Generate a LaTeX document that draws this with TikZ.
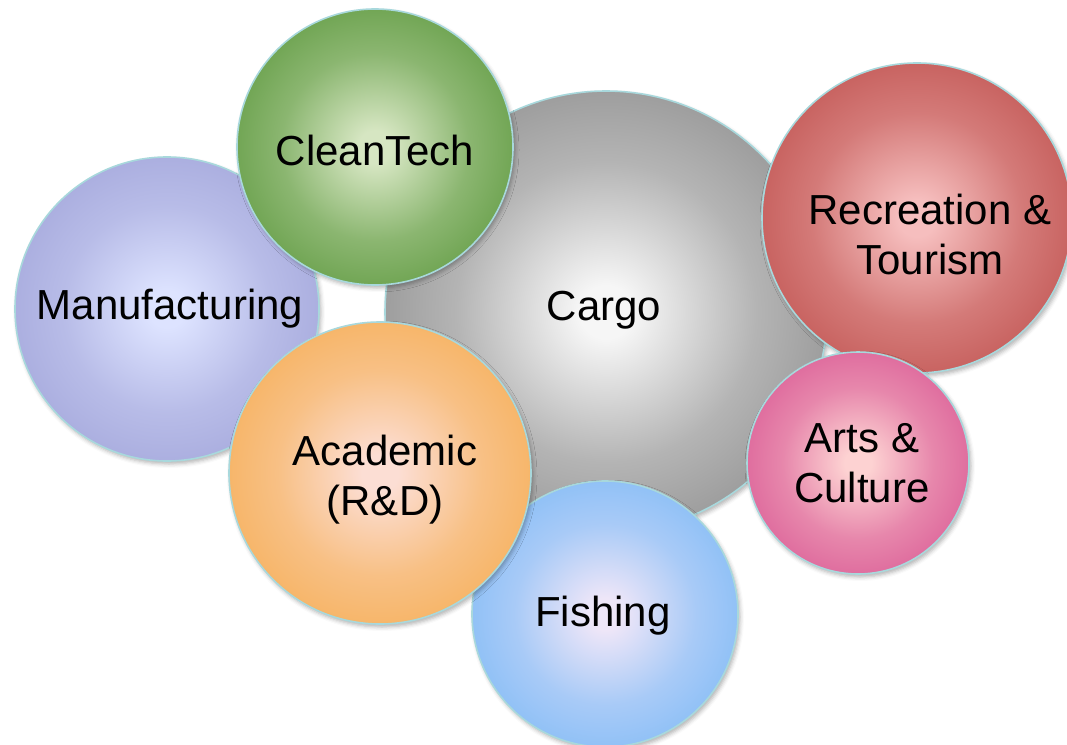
\documentclass[tikz,border=0pt]{standalone}
\usepackage{fontspec}
\setmainfont{Liberation Sans}
\usetikzlibrary{shadows.blur}

\definecolor{rim}{HTML}{A8D8DC}
\definecolor{cargoIn}{HTML}{F6F6F6}   \definecolor{cargoOut}{HTML}{888888}
\definecolor{manuIn}{HTML}{DDE3FF}    \definecolor{manuOut}{HTML}{9FA2D8}
\definecolor{cleanIn}{HTML}{D6E6C2}   \definecolor{cleanOut}{HTML}{59963A}
\definecolor{recIn}{HTML}{F6BEBE}     \definecolor{recOut}{HTML}{BD4D4A}
\definecolor{artsIn}{HTML}{FDD2D2}    \definecolor{artsOut}{HTML}{D85592}
\definecolor{fishIn}{HTML}{EEE6F8}    \definecolor{fishOut}{HTML}{7AB8F6}
\definecolor{acadIn}{HTML}{FCDED4}    \definecolor{acadOut}{HTML}{F5AC50}

\pgfdeclareradialshading[bubin,bubout]{bubble}{\pgfpoint{0bp}{0bp}}{color(0bp)=(bubin); color(3bp)=(bubin); color(17bp)=(bubin!40!bubout); color(33bp)=(bubout); color(50bp)=(bubout)}

\begin{document}
\begin{tikzpicture}[x=1pt,y=-1pt]

  % Definitions
  \tikzstyle{Bubble} = [circle, inner sep=0pt, draw=rim, line width=1.6pt, /utils/exec={\colorlet{bubin}{#1In}\colorlet{bubout}{#1Out}}, shading=bubble, blur shadow={shadow xshift=2pt, shadow yshift=-3pt, shadow opacity=30, shadow blur radius=4pt}]
  \tikzstyle{Label} = [align=center, text=black, font=\fontsize{42}{50}\selectfont]

  \useasboundingbox (0,0) rectangle (1067,744);

  % bubbles, back to front
  \node (cargo) [Bubble=cargo, minimum size=442pt] at (606,312) {};
  \node (manu)  [Bubble=manu,  minimum size=304pt] at (167,309) {};
  \node (clean) [Bubble=clean, minimum size=276pt] at (375,147) {};
  \node (rec)   [Bubble=rec,   minimum size=310pt] at (917,218) {};
  \node (arts)  [Bubble=arts,  minimum size=222pt] at (858,463) {};
  \node (fish)  [Bubble=fish,  minimum size=266pt] at (605,614) {};
  \node (acad)  [Bubble=acad,  minimum size=302pt] at (380,473) {};

  % labels
  \node (cargoTxt) [Label, xshift=-2pt, yshift=2pt] at (cargo) {Cargo};
  \node (manuTxt)  [Label, xshift=3pt] at (manu) {Manufacturing};
  \node (cleanTxt) [Label, yshift=-3pt] at (clean) {CleanTech};
  \node (recTxt)   [Label, xshift=13pt, yshift=-16pt] at (rec) {Recreation \&\\Tourism};
  \node (artsTxt)  [Label, xshift=4pt] at (arts) {Arts \&\\Culture};
  \node (fishTxt)  [Label, xshift=-2pt, yshift=-2pt] at (fish) {Fishing};
  \node (acadTxt)  [Label, xshift=5pt, yshift=-7pt] at (acad) {Academic\\(R\&D)};

\end{tikzpicture}
\end{document}
